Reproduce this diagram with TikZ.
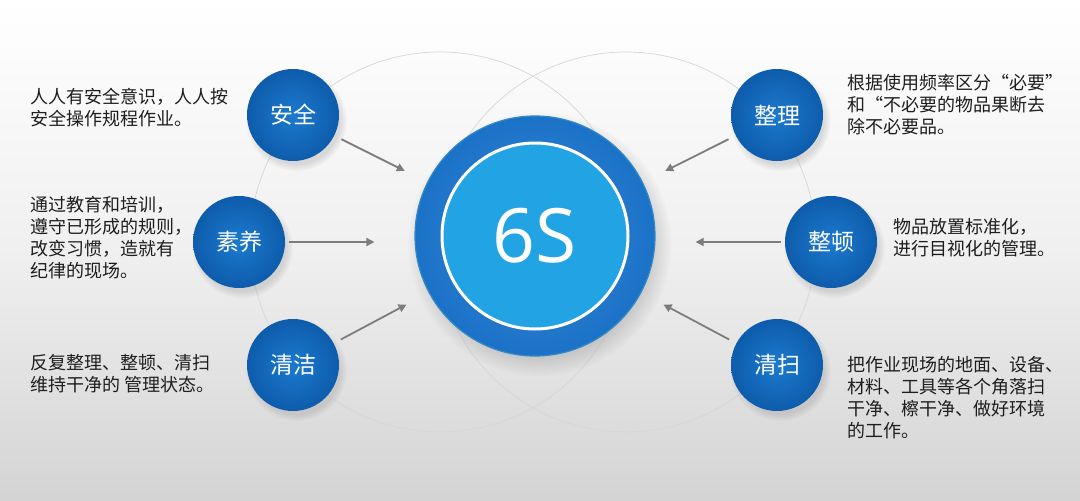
\documentclass[tikz,border=0pt]{standalone}
\usepackage{fontspec}
\newfontfamily\cjk{Noto Sans CJK SC}
\newfontfamily\latinsans{Open Sans}
\usetikzlibrary{arrows.meta,shadows}
\definecolor{BallBlue}{RGB}{28,122,206}
\definecolor{BallEdge}{RGB}{14,92,172}
\definecolor{RingBlue}{RGB}{26,114,200}
\definecolor{CoreBlue}{RGB}{34,164,228}
\definecolor{ArrowGray}{RGB}{125,125,125}
\definecolor{NoteGray}{RGB}{30,30,30}
\tikzset{
  sball/.style={circle,minimum size=92pt,inner sep=0pt,inner color=BallBlue,outer color=BallEdge,
    text=white,font=\cjk\fontsize{23}{23}\selectfont,
    circular drop shadow={shadow xshift=3pt,shadow yshift=-5pt,opacity=0.25}},
  note/.style={anchor=north west,align=left,inner sep=0pt,text=NoteGray,font=\cjk\fontsize{18}{22}\selectfont},
  pointer/.style={draw=ArrowGray,line width=1.8pt,-{Triangle[length=8pt,width=8pt]}},
}

\begin{document}
\begin{tikzpicture}[x=1pt,y=-1pt]
  \useasboundingbox (0,0) rectangle (1080,501);
  \shade[top color=white,bottom color=black!17,middle color=black!6] (0,0) rectangle (1080,501);
  % faint guide circles
  \draw[black!16,line width=0.7pt] (440,242) circle (190);
  \draw[black!16,line width=0.7pt] (626,242) circle (190);
  % centre
  \node[circle,minimum size=240pt,inner sep=0pt,inner color=RingBlue!85!white,outer color=RingBlue,
    draw=cyan!35!RingBlue,line width=1.2pt,
    circular drop shadow={shadow xshift=4pt,shadow yshift=-7pt,opacity=0.3}] (hub) at (535,236) {};
  \node[circle,minimum size=186pt,inner sep=0pt,fill=CoreBlue,draw=white,line width=3pt,
    text=white,font=\latinsans\fontsize{75}{75}\selectfont] (hubin) at (hub) {6S};
  % six balls
  \node[sball] (anquan) at (293,115) {安全};
  \node[sball] (suyang) at (239,242) {素养};
  \node[sball] (qingjie) at (293,365) {清洁};
  \node[sball] (zhengli) at (777,115) {整理};
  \node[sball] (zhengdun) at (831,242) {整顿};
  \node[sball] (qingsao) at (777,365) {清扫};
  % arrows
  \draw[pointer,shorten <=8pt,shorten >=25pt] (anquan) -- (hub);
  \draw[pointer,shorten <=4pt,shorten >=40pt] (suyang) -- (suyang -| hub.west);
  \draw[pointer,shorten <=8pt,shorten >=25pt] (qingjie) -- (hub);
  \draw[pointer,shorten <=8pt,shorten >=25pt] (zhengli) -- (hub);
  \draw[pointer,shorten <=4pt,shorten >=40pt] (zhengdun) -- (zhengdun -| hub.east);
  \draw[pointer,shorten <=8pt,shorten >=25pt] (qingsao) -- (hub);
  % notes
  \node[note] (n1) at (30,88) {人人有安全意识，人人按\\安全操作规程作业。};
  \node[note] (n2) at (30,196) {通过教育和培训，\\遵守已形成的规则，\\改变习惯，造就有\\纪律的现场。};
  \node[note] (n3) at (30,354) {反复整理、整顿、清扫\\维持干净的 管理状态。};
  \node[note] (n4) at (847,74) {根据使用频率区分“必要”\\和“不必要的物品果断去\\除不必要品。};
  \node[note] (n5) at (893,218) {物品放置标准化，\\进行目视化的管理。};
  \node[note] (n6) at (847,356) {把作业现场的地面、设备、\\材料、工具等各个角落扫\\干净、檫干净、做好环境\\的工作。};
\end{tikzpicture}
\end{document}
